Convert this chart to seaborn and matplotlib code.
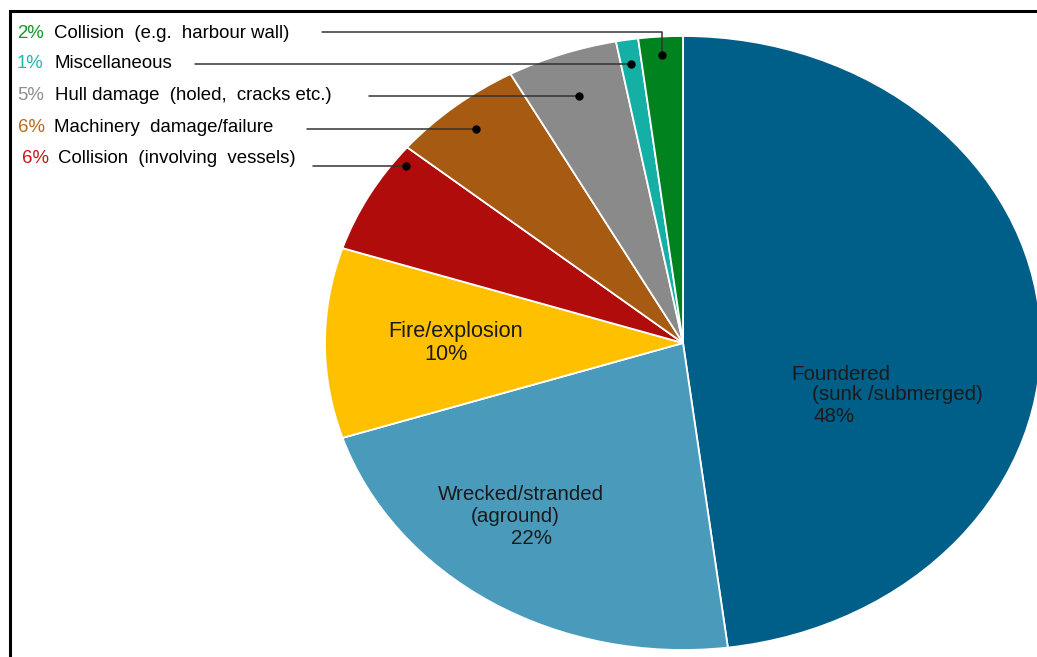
import matplotlib
matplotlib.use("Agg")
import matplotlib.pyplot as plt
import matplotlib.patches as mpatches
import numpy as np
import seaborn as sns

sns.set_theme(style="white")
plt.rcParams['font.family'] = ['Liberation Sans', 'DejaVu Sans']

# ---- data ----
categories = ["Foundered (sunk /submerged)", "Wrecked/stranded (aground)", "Fire/explosion",
              "Collision (involving vessels)", "Machinery damage/failure",
              "Hull damage (holed, cracks etc.)", "Miscellaneous", "Collision (e.g. harbour wall)"]
values = [48, 22, 10, 6, 6, 5, 1, 2]
colors = ["#005F88", "#4A9BBB", "#FFC000", "#B00C0C", "#A65A12", "#8A8A8A", "#14AFA5", "#00821E"]

# outside-labelled slices (index into categories), top row first
outside_idx = [7, 6, 5, 4, 3]
outside_pct = ["2%", "1%", "5%", "6%", "6%"]
outside_txt = ["Collision  (e.g.  harbour wall)", "Miscellaneous", "Hull damage  (holed,  cracks etc.)",
               "Machinery  damage/failure", "Collision  (involving  vessels)"]
pct_colors = ["#16952E", "#20B8B0", "#8F8F8F", "#B86A22", "#C01818"]

W, H = 1037, 657
fig = plt.figure(figsize=(W / 100, H / 100), dpi=100)
fig.patch.set_facecolor("white")

# pie axes placed so the ellipse spans the right region
x0, x1 = 325, 1041
ytop, ybot = 36, 650
ax = fig.add_axes([x0 / W, (H - ybot) / H, (x1 - x0) / W, (ybot - ytop) / H])
wedges, _ = ax.pie(values, colors=colors, startangle=90, counterclock=False,
                   wedgeprops=dict(edgecolor="white", linewidth=1.3))
ax.set_xlim(-1, 1)
ax.set_ylim(-1, 1)
ax.set_aspect("auto")
ax.axis("off")
for w in wedges:
    w.set_clip_on(False)

# leader dots: position within wedge (fraction, clockwise) and radius
dot_frac = [0.5, 0.5, 0.5, 0.5, 0.86]
dot_r = [0.94, 0.92, 0.855, 0.905, 0.965]
row_y = [33, 64, 96, 127, 159]
line_end_x = [322, 195, 369, 307, 313]
pct_x = [17, 17, 17, 18, 22]
txt_x = [54, 54, 55, 54, 58]

def px2data(px, py):
    dx = (px - x0) / (x1 - x0) * 2 - 1
    dy = 1 - (py - ytop) / (ybot - ytop) * 2
    return dx, dy

for k, idx in enumerate(outside_idx):
    w = wedges[idx]
    th = np.deg2rad(w.theta2 - dot_frac[k] * (w.theta2 - w.theta1))
    dx, dy = dot_r[k] * np.cos(th), dot_r[k] * np.sin(th)
    ax.plot([dx], [dy], "o", color="black", markersize=5, clip_on=False, zorder=5)
    lx, ly = px2data(line_end_x[k], 32)
    if k == 0:
        ax.plot([dx, dx, lx], [dy, ly, ly], color="#333333", lw=1.1, clip_on=False, zorder=4)
    else:
        ax.plot([dx, lx], [dy, dy], color="#333333", lw=1.1, clip_on=False, zorder=4)
    fig.text(pct_x[k] / W, 1 - row_y[k] / H, outside_pct[k], color=pct_colors[k],
             fontsize=13.4, va="center", ha="left")
    fig.text(txt_x[k] / W, 1 - row_y[k] / H, outside_txt[k], color="black",
             fontsize=13.4, va="center", ha="left")

# inside labels
tc = "#1a1a1a"
def ftext(px, py, s, ha="center", fs=14.8):
    fig.text(px / W, 1 - py / H, s, color=tc, fontsize=fs, ha=ha, va="center")

ftext(456, 332, "Fire/explosion", fs=15.6)
ftext(446, 354, "10%", fs=15.6)
ftext(521, 495, "Wrecked/stranded")
ftext(515, 517, "(aground)")
ftext(531, 539, "22%")
ftext(791, 375, "Foundered", ha="left")
ftext(812, 395, "(sunk /submerged)", ha="left")
ftext(814, 416, "48%", ha="left")

# frame
frame = mpatches.Rectangle((10 / W, -0.2), 1.2, (1 - 11 / H) + 0.2,
                           transform=fig.transFigure, fill=False, edgecolor="black",
                           linewidth=2.2, zorder=10)
fig.patches.append(frame)

fig.savefig("out.png", dpi=100, facecolor="white")
